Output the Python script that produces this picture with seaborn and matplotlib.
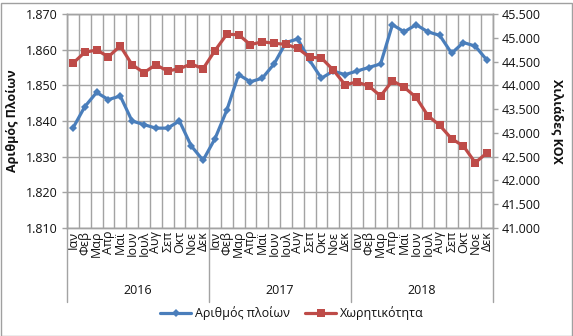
import numpy as np
import pandas as pd
import seaborn as sns
import matplotlib
matplotlib.use("Agg")
import matplotlib.pyplot as plt
from matplotlib.ticker import FuncFormatter
from matplotlib.lines import Line2D
from matplotlib.patches import Rectangle

# Monthly fleet data 2016-2018
years = ["2016", "2017", "2018"]
months = ["Ιαν", "Φεβ", "Μαρ", "Απρ", "Μαϊ", "Ιουν", "Ιουλ", "Αυγ", "Σεπ", "Οκτ", "Νοε", "Δεκ"]
ships = [1838, 1844, 1848, 1846, 1847, 1840, 1839, 1838, 1838, 1840, 1833, 1829,
         1835, 1843, 1853, 1851, 1852, 1856, 1862, 1863, 1857, 1852, 1854, 1853,
         1854, 1855, 1856, 1867, 1865, 1867, 1865, 1864, 1859, 1862, 1861, 1857]
capacity = [44463, 44694, 44743, 44602, 44827, 44434, 44266, 44434, 44301, 44350, 44449, 44350,
            44729, 45073, 45065, 44854, 44917, 44883, 44862, 44779, 44589, 44575, 44322, 44013,
            44070, 43986, 43776, 44097, 43958, 43748, 43361, 43158, 42877, 42724, 42373, 42583]
ships_label = "Αριθμός πλοίων"
capacity_label = "Χωρητικότητα"

n = len(ships)
df = pd.DataFrame({"idx": np.arange(n), "ships": ships, "capacity": capacity})

sns.set_style("white")
plt.rcParams["font.family"] = ["Open Sans", "DejaVu Sans"]
plt.rcParams["font.size"] = 8

BLUE = "#4a7ebb"
RED = "#be4b48"
GRID = "#a3a3a3"
TXT = "#111111"

W, H = 573, 336
fig = plt.figure(figsize=(W / 100, H / 100), dpi=100)
L, R, T, B = 67, 493, 14, 228
ax = fig.add_axes([L / W, 1 - B / H, (R - L) / W, (B - T) / H])
ax2 = ax.twinx()

sns.lineplot(data=df, x="idx", y="ships", ax=ax, color=BLUE, lw=2.3,
             marker="D", markersize=4, markeredgewidth=0, legend=False)
sns.lineplot(data=df, x="idx", y="capacity", ax=ax2, color=RED, lw=2.3,
             marker="s", markersize=5.5, markeredgewidth=0, legend=False)

ax.set_xlim(-0.5, n - 0.5)
ax.set_ylim(1810, 1870)
ax2.set_ylim(41000, 45500)
ax.set_yticks(np.arange(1810, 1871, 10))
ax2.set_yticks(np.arange(41000, 45501, 500))

fmt = FuncFormatter(lambda v, p: f"{v:,.0f}".replace(",", "."))
ax.yaxis.set_major_formatter(fmt)
ax2.yaxis.set_major_formatter(fmt)

# category boundaries as major ticks (gridlines), months as minor tick labels
ax.set_xticks(np.arange(-0.5, n, 1))
ax.set_xticklabels([])
ax.set_xticks(np.arange(n), minor=True)
ax.set_xticklabels(months * len(years), minor=True, rotation=90, fontsize=9, color=TXT)
ax.tick_params(axis="x", which="major", length=29.5, width=1, color=GRID, direction="out")
ax.tick_params(axis="x", which="minor", length=0, pad=2)
ax.tick_params(axis="y", length=3.5, width=1, color=GRID, labelsize=9, labelcolor=TXT, pad=3)
ax2.tick_params(axis="y", length=3.5, width=1, color=GRID, labelsize=9, labelcolor=TXT, pad=3)
ax.set_xlabel("")
ax.set_ylabel("")
ax2.set_ylabel("")

ax.grid(True, which="major", axis="both", color=GRID, lw=1)
ax.set_axisbelow(True)
for a in (ax, ax2):
    for s in a.spines.values():
        s.set_color(GRID)
        s.set_linewidth(1)

# year group separators and labels
trans = ax.get_xaxis_transform()
for k in range(len(years) + 1):
    x = k * 12 - 0.5
    ax.add_line(Line2D([x, x], [0, -(302 - B) / (B - T)], transform=trans,
                       color=GRID, lw=1, clip_on=False))
for k, y in enumerate(years):
    ax.text(k * 12 + 5.5, -(290 - B) / (B - T), y, transform=trans,
            ha="center", va="center", fontsize=9, color=TXT)

fig.text(13 / W, 1 - 121 / H, "Αριθμός Πλοίων", rotation=90, ha="center", va="center",
         fontsize=9, fontweight="bold", color=TXT)
fig.text(557 / W, 1 - 121 / H, "Χιλιάδες ΚΟΧ", rotation=270, ha="center", va="center",
         fontsize=9, fontweight="bold", color=TXT)

handles = [Line2D([], [], color=BLUE, lw=2.3, marker="D", markersize=4, markeredgewidth=0),
           Line2D([], [], color=RED, lw=2.3, marker="s", markersize=5.5, markeredgewidth=0)]
fig.legend(handles, [ships_label, capacity_label], loc="center",
           bbox_to_anchor=(292 / W, 1 - 313 / H), ncol=2, frameon=False,
           fontsize=9, handlelength=2.5, handletextpad=0.3, columnspacing=1.2,
           labelcolor=TXT)

fig.patches.append(Rectangle((0.5 / W, 0.5 / H), (W - 2) / W, (H - 3) / H,
                             transform=fig.transFigure, fill=False,
                             edgecolor="#a0a0a0", lw=1))

fig.savefig("out.png", dpi=100)
